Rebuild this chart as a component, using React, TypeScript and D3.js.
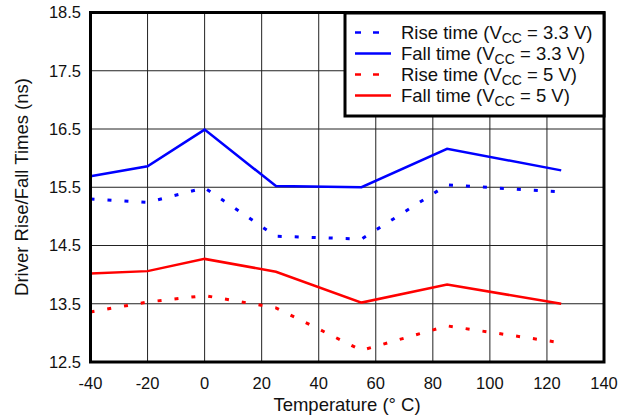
import React from "react";
import * as d3 from "d3";

const temps = [-40, -20, 0, 25, 55, 85, 125];
const rise33 = [15.3, 15.24, 15.49, 14.66, 14.61, 15.54, 15.42];
const fall33 = [15.69, 15.86, 16.49, 15.52, 15.5, 16.16, 15.79];
const rise5 = [13.36, 13.53, 13.64, 13.43, 12.7, 13.12, 12.83];
const fall5 = [14.02, 14.06, 14.27, 14.05, 13.52, 13.83, 13.5];
const xTicks = [-40, -20, 0, 20, 40, 60, 80, 100, 120, 140];
const yTicks = [12.5, 13.5, 14.5, 15.5, 16.5, 17.5, 18.5];

const series = [
  { name: "Rise time", vcc: "3.3 V", values: rise33, color: "#0000ff", dashed: true },
  { name: "Fall time", vcc: "3.3 V", values: fall33, color: "#0000ff", dashed: false },
  { name: "Rise time", vcc: "5 V", values: rise5, color: "#ff0000", dashed: true },
  { name: "Fall time", vcc: "5 V", values: fall5, color: "#ff0000", dashed: false },
];

const W = 632, H = 419;
const L = 90.5, R = 604, T = 12.5, B = 362;
const font = "'Liberation Sans', Arial, sans-serif";

export default function App() {
  const x = d3.scaleLinear().domain([-40, 140]).range([L, R]);
  const y = d3.scaleLinear().domain([12.5, 18.5]).range([B, T]);
  const line = d3.line<number>().x((_, i) => x(temps[i])).y((d) => y(d));

  return (
    <svg width={W} height={H} style={{ position: "absolute", left: 0, top: 0, background: "#fff" }} fontFamily={font}>
      {xTicks.map((t) => (
        <line key={"gx" + t} x1={x(t)} x2={x(t)} y1={T} y2={B} stroke="#222" strokeWidth={1} />
      ))}
      {yTicks.map((t) => (
        <line key={"gy" + t} x1={L} x2={R} y1={y(t)} y2={y(t)} stroke="#222" strokeWidth={1} />
      ))}
      {series.map((s, i) => (
        <path
          key={i}
          d={line(s.values) || ""}
          fill="none"
          stroke={s.color}
          strokeWidth={s.dashed ? 3 : 2.5}
          strokeDasharray={s.dashed ? "4 13" : undefined}
        />
      ))}
      <rect x={L} y={T} width={R - L} height={B - T} fill="none" stroke="#000" strokeWidth={3} />
      {yTicks.map((t) => (
        <text key={"ty" + t} x={81} y={y(t)} dy="0.35em" textAnchor="end" fontSize={16.5} fill="#111">
          {t.toFixed(1)}
        </text>
      ))}
      {xTicks.map((t) => (
        <text key={"tx" + t} x={x(t)} y={389} textAnchor="middle" fontSize={16.5} fill="#111">
          {t}
        </text>
      ))}
      <text x={347} y={411} textAnchor="middle" fontSize={18.5} fill="#111">Temperature (° C)</text>
      <text transform={`translate(28,187) rotate(-90)`} textAnchor="middle" fontSize={18.5} fill="#111">
        Driver Rise/Fall Times (ns)
      </text>
      <rect x={345} y={13} width={259} height={103} fill="#fff" stroke="#000" strokeWidth={3} />
      {series.map((s, i) => {
        const cy = 32.5 + i * 21;
        return (
          <g key={"lg" + i}>
            {s.dashed ? (
              <>
                <line x1={355} x2={361} y1={cy} y2={cy} stroke={s.color} strokeWidth={2.5} />
                <line x1={373} x2={379} y1={cy} y2={cy} stroke={s.color} strokeWidth={2.5} />
              </>
            ) : (
              <line x1={355} x2={391} y1={cy} y2={cy} stroke={s.color} strokeWidth={2.5} />
            )}
            <text x={401} y={cy} dy="0.35em" fontSize={18.5} fill="#111">
              {s.name} (V
              <tspan fontSize={14} dy="4">CC</tspan>
              <tspan dy="-4"> = {s.vcc})</tspan>
            </text>
          </g>
        );
      })}
    </svg>
  );
}
